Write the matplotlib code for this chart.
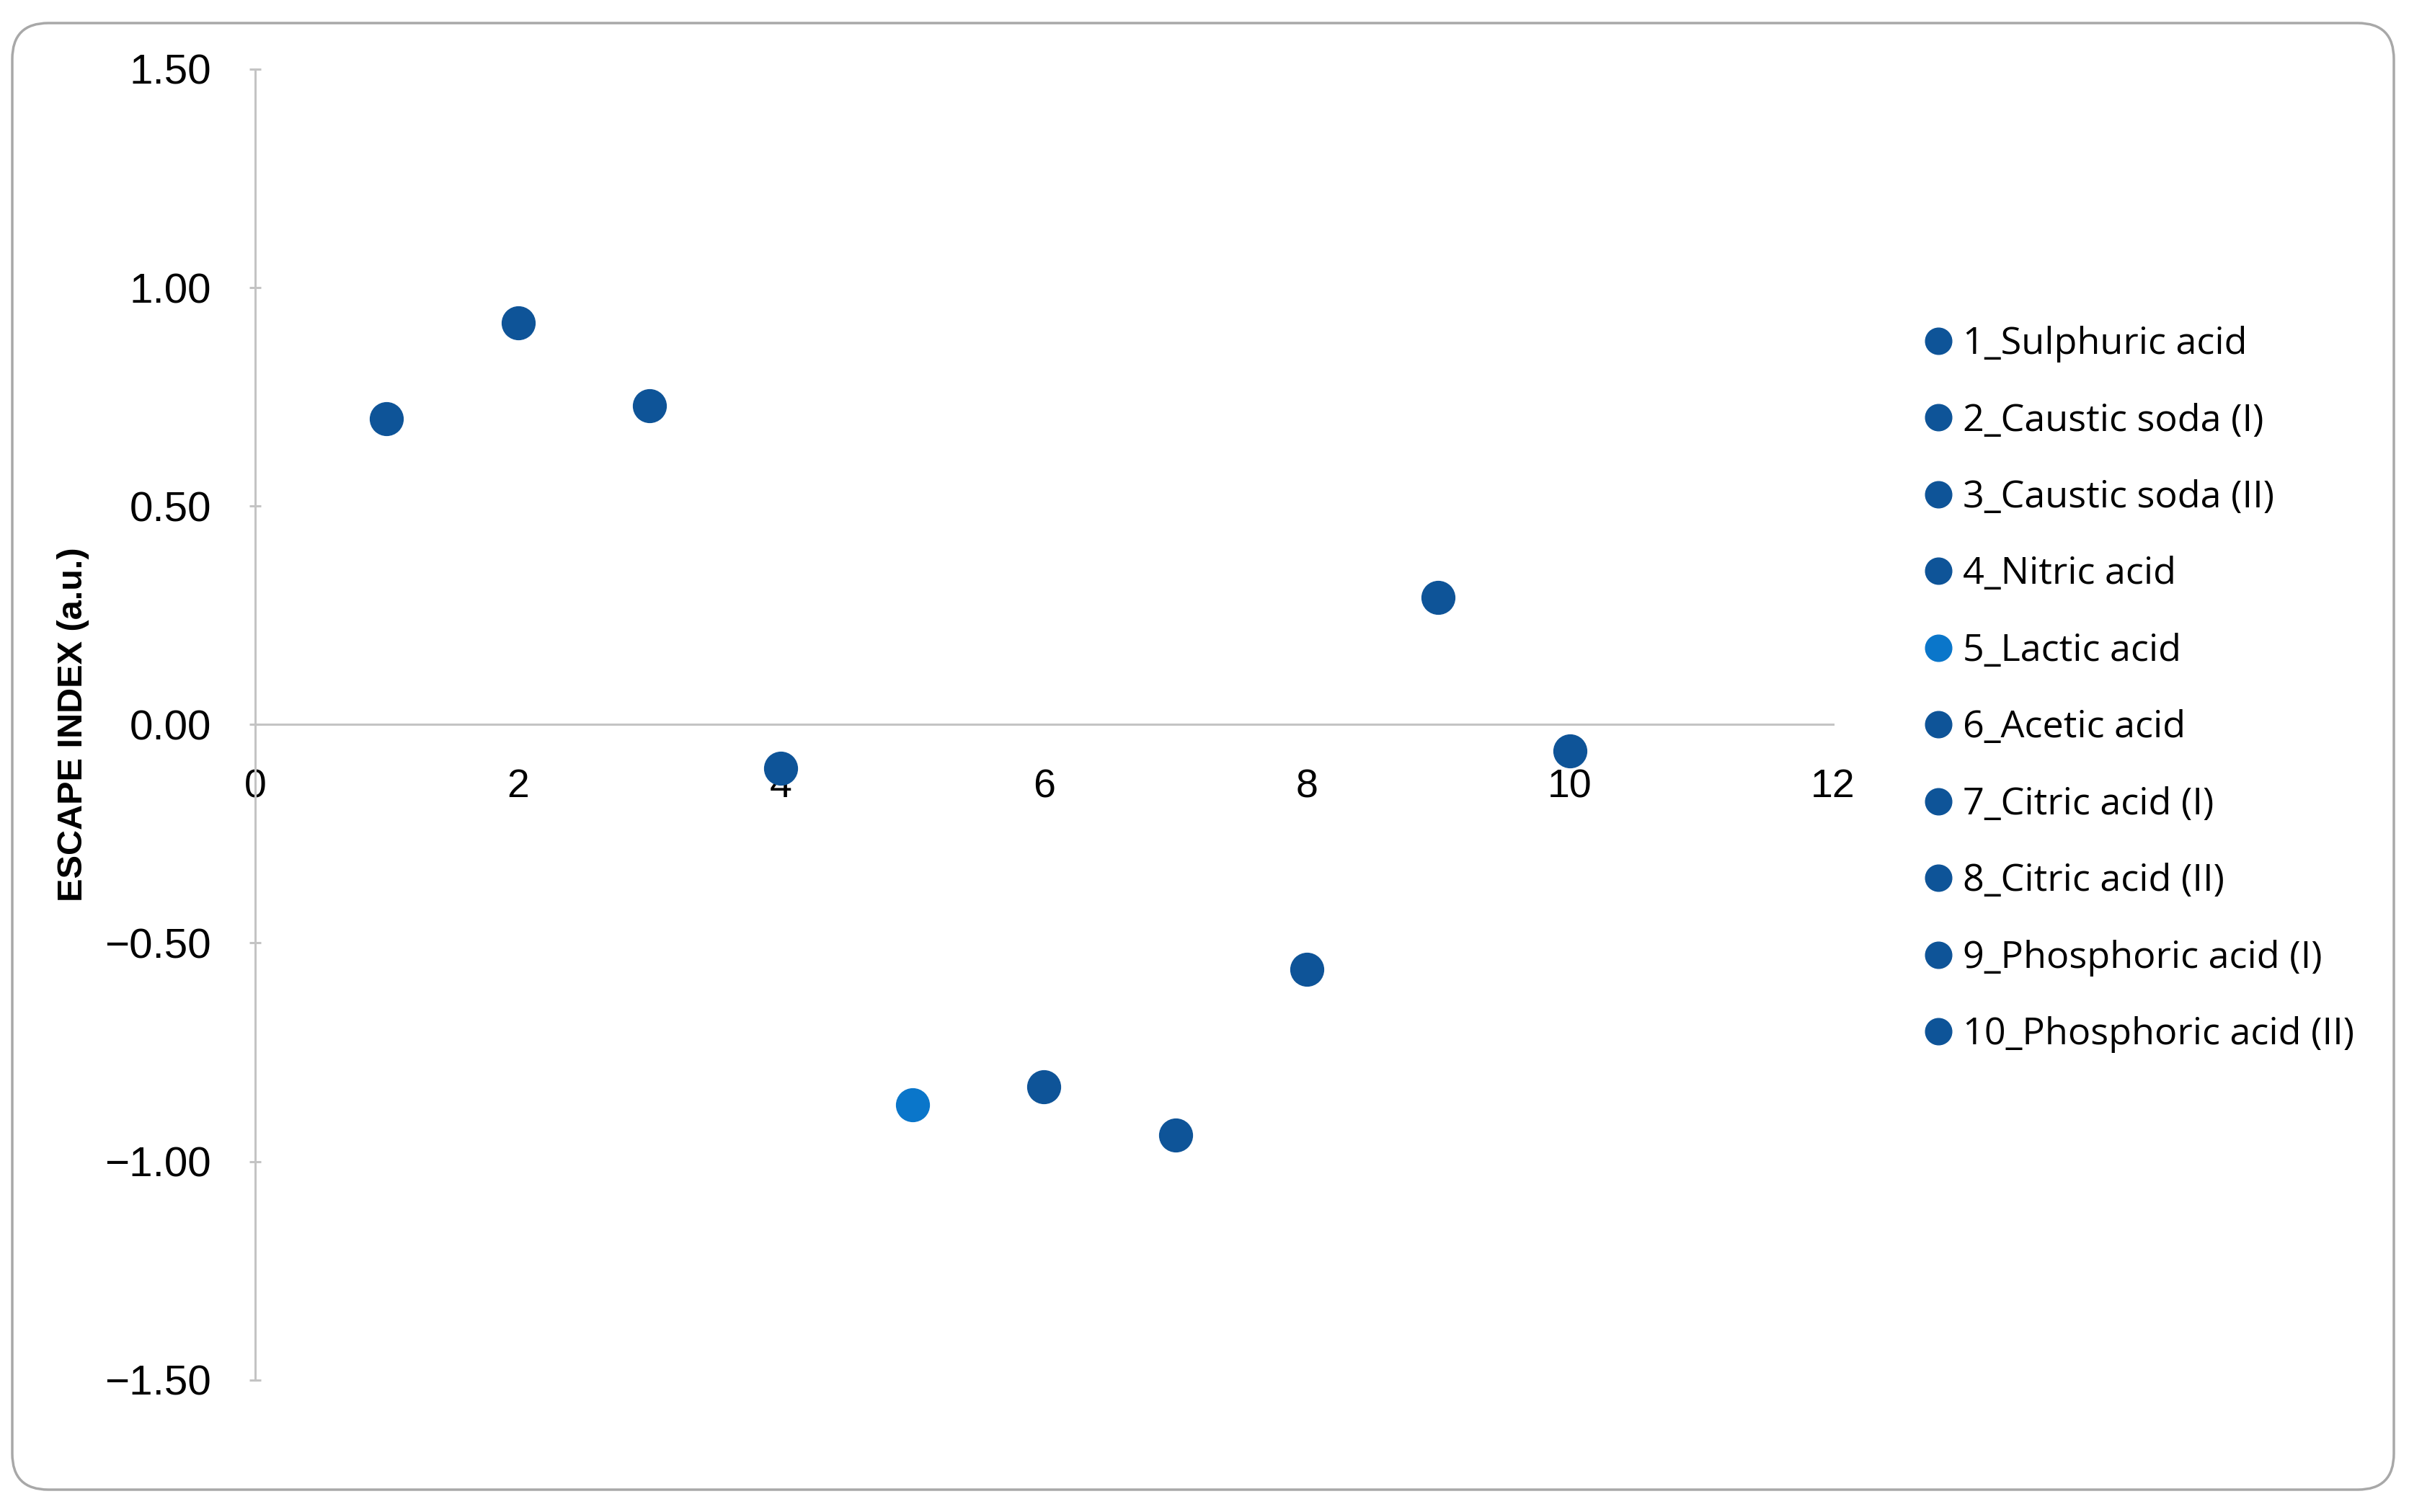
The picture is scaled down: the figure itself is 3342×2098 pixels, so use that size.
import matplotlib
matplotlib.use("Agg")
import matplotlib.pyplot as plt
from matplotlib import font_manager
from matplotlib.patches import FancyBboxPatch
from matplotlib.ticker import FuncFormatter

# data
samples = ["1_Sulphuric acid", "2_Caustic soda (I)", "3_Caustic soda (II)", "4_Nitric acid",
           "5_Lactic acid", "6_Acetic acid", "7_Citric acid (I)", "8_Citric acid (II)",
           "9_Phosphoric acid (I)", "10_Phosphoric acid (II)"]
sample_no = [1, 2, 3, 4, 5, 6, 7, 8, 9, 10]
escape_index = [0.70, 0.92, 0.73, -0.10, -0.87, -0.83, -0.94, -0.56, 0.29, -0.06]
point_colors = ["#0E5498", "#0E5498", "#0E5498", "#0E5498", "#0A76CA",
                "#0E5498", "#0E5498", "#0E5498", "#0E5498", "#0E5498"]
x_ticks = [0, 2, 4, 6, 8, 10, 12]
y_ticks = [-1.5, -1.0, -0.5, 0.0, 0.5, 1.0, 1.5]

installed = set(f.name for f in font_manager.fontManager.ttflist)
narrow = "Liberation Sans Narrow" if "Liberation Sans Narrow" in installed else "Liberation Sans"

plt.rcParams['font.family'] = ['Liberation Sans', 'DejaVu Sans']

fig = plt.figure(figsize=(33.42, 20.98), dpi=100)
ax = fig.add_axes([0.1059, 0.0874, 0.6549, 0.8669])

for i in range(len(samples)):
    ax.plot(sample_no[i], escape_index[i], 'o', ms=33, color=point_colors[i],
            label=samples[i], clip_on=False, zorder=3)

ax.set_xlim(0, 12)
ax.set_ylim(-1.5, 1.5)

axis_col = "#C4C4C4"
ax.spines['top'].set_visible(False)
ax.spines['right'].set_visible(False)
ax.spines['left'].set_position(('data', 0))
ax.spines['bottom'].set_position(('data', 0))
for s in ['left', 'bottom']:
    ax.spines[s].set_color(axis_col)
    ax.spines[s].set_linewidth(2.2)

ax.set_xticks(x_ticks)
ax.set_yticks(y_ticks)
ax.yaxis.set_major_formatter(FuncFormatter(lambda v, p: ("%.2f" % v).replace("-", "\u2212")))
ax.tick_params(axis='x', length=0, pad=44, labelsize=40)
ax.tick_params(axis='y', direction='inout', length=12, width=2.2, color=axis_col,
               pad=38, labelsize=42)
for lab in ax.get_xticklabels():
    lab.set_family([narrow, 'DejaVu Sans'])

ax.set_ylabel("ESCAPE INDEX (a.u.)", fontsize=35, fontweight='bold')
ax.yaxis.set_label_coords(-0.105, 0.5)

leg = ax.legend(loc='center left', bbox_to_anchor=(0.7993, 0.5440), bbox_transform=fig.transFigure,
                frameon=False, prop={'family': ['Open Sans', 'DejaVu Sans'], 'size': 37.5},
                markerscale=0.8, handlelength=0.7, handletextpad=0.3, labelspacing=1.065,
                borderpad=0, borderaxespad=0)

# rounded chart border
border = FancyBboxPatch((0.17, 0.31), 33.04, 20.35, boxstyle='round,pad=0,rounding_size=0.5',
                        transform=fig.dpi_scale_trans, fill=False, ec="#A8A8A8", lw=2.5)
fig.add_artist(border)

fig.savefig("out.png", dpi=100, facecolor='white')
